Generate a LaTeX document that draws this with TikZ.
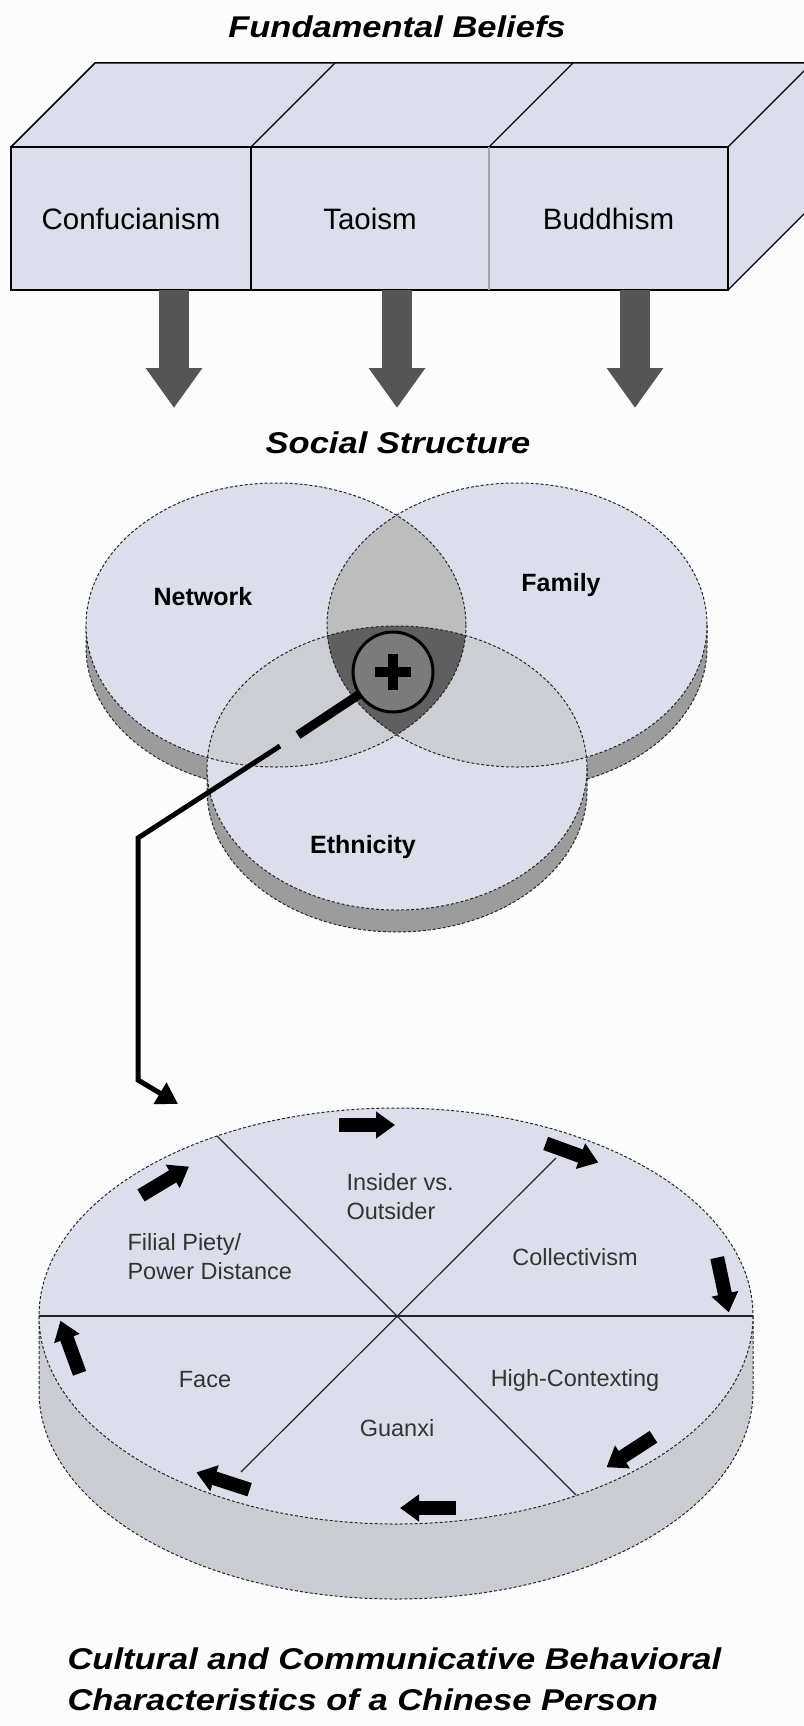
\documentclass[tikz,border=0pt]{standalone}
\usepackage{fontspec}
\setmainfont{Liberation Sans}
\newfontfamily\headfont[FakeStretch=1.15]{Liberation Sans}
\usetikzlibrary{arrows.meta,calc}

\definecolor{facefill}{HTML}{DCDFEB}
\definecolor{vennrim}{HTML}{9C9C9C}
\definecolor{pierim}{HTML}{CBCCD1}
\definecolor{lenstop}{HTML}{BDBDBD}
\definecolor{lensside}{HTML}{CDCED4}
\definecolor{lensmid}{HTML}{5F5F5F}
\definecolor{glass}{HTML}{7B7B7B}
\definecolor{beliefgray}{HTML}{555555}
\definecolor{paper}{HTML}{FCFCFC}

\tikzset{
  heading/.style={font=\headfont\bfseries\itshape\fontsize{30}{41}\selectfont},
  beliefbox/.style={fill=facefill, minimum width=239pt, minimum height=143pt, inner sep=0pt, font=\fontsize{29.5}{34}\selectfont},
  beliefarrow/.style={draw=beliefgray, line width=30pt, -{Triangle[length=40pt,width=54pt]}},
  venntext/.style={font=\bfseries\fontsize{25}{30}\selectfont},
  pietext/.style={text=black!80, font=\fontsize{23.5}{29}\selectfont},
  dashline/.style={draw=black!85, line width=1pt, dash pattern=on 3pt off 2pt},
  divider/.style={draw=black!85, line width=1.2pt},
  turnarrow/.style={draw=black, line width=14pt, -{Triangle[length=19pt,width=26pt]}},
  handle/.style={line width=9pt},
  link/.style={line width=5pt, line join=miter, -{Triangle[length=21pt,width=24pt]}}
}

\begin{document}
\begin{tikzpicture}[x=1pt, y=1pt, yscale=-1]
\fill[paper] (0,0) rectangle (803,1726);
\useasboundingbox (0,0) rectangle (803,1726);

\node[heading] (fb) at (397,27) {Fundamental Beliefs};

\node[beliefbox] (conf) at (131,218.5) {Confucianism};
\node[beliefbox] (tao) at (370,218.5) {Taoism};
\node[beliefbox] (bud) at (608.5,218.5) {Buddhism};
\fill[facefill] (11,147) -- (95,63) -- (812,63) -- (728,147) -- cycle;
\fill[facefill] (728,147) -- (812,63) -- (812,206) -- (728,290) -- cycle;
\draw[line width=1.5pt] (11,147) -- (95,63) -- (812,63);
\draw[line width=1.5pt] (11,147) rectangle (728,290);
\draw[line width=1.2pt] (728,147) -- (812,63);
\draw[line width=1.2pt] (728,290) -- (812,206);
\draw[line width=1.2pt] (251,147) -- (335,63);
\draw[line width=1.2pt] (489,147) -- (573,63);
\draw[line width=1.5pt] (251,147) -- (251,290);
\draw[black!35, line width=1.2pt] (489,147) -- (489,290);

\coordinate (b1) at (174,290);
\coordinate (b2) at (397,290);
\coordinate (b3) at (635,290);
\coordinate (s1) at (174,408);
\coordinate (s2) at (397,408);
\coordinate (s3) at (635,408);
\draw[beliefarrow] (b1) -- (s1);
\draw[beliefarrow] (b2) -- (s2);
\draw[beliefarrow] (b3) -- (s3);

\node[heading] (ss) at (398,443) {Social Structure};

\foreach \cx/\cy in {276/625, 517/625, 397/768} {
  \fill[vennrim] (\cx-190,\cy) -- (\cx-190,\cy+22) arc[start angle=180, end angle=0, x radius=190, y radius=142]
    -- (\cx+190,\cy) arc[start angle=0, end angle=180, x radius=190, y radius=142] -- cycle;
  \draw[dashline] (\cx-190,\cy) -- (\cx-190,\cy+22) arc[start angle=180, end angle=0, x radius=190, y radius=142] -- (\cx+190,\cy);
}
\foreach \cx/\cy in {276/625, 517/625, 397/768}
  \fill[facefill] (\cx,\cy) ellipse [x radius=190, y radius=142];
\begin{scope}
\clip (276,625) ellipse [x radius=190, y radius=142];
\fill[lenstop] (517,625) ellipse [x radius=190, y radius=142];
\fill[lensside] (397,768) ellipse [x radius=190, y radius=142];
\end{scope}
\begin{scope}
\clip (517,625) ellipse [x radius=190, y radius=142];
\fill[lensside] (397,768) ellipse [x radius=190, y radius=142];
\clip (276,625) ellipse [x radius=190, y radius=142];
\fill[lensmid] (397,768) ellipse [x radius=190, y radius=142];
\end{scope}
\foreach \cx/\cy in {276/625, 517/625, 397/768}
  \draw[dashline] (\cx,\cy) ellipse [x radius=190, y radius=142];

\node[venntext] (net) at (203,597) {Network};
\node[venntext] (fam) at (561,585) {Family};
\node[venntext] (eth) at (363,847) {Ethnicity};

\node[circle, draw, line width=3pt, fill=glass, minimum size=80pt, inner sep=0pt] (lens) at (393,672) {};
\draw[line width=10pt] ([xshift=-18pt]lens.center) -- ([xshift=18pt]lens.center);
\draw[line width=10pt] ([yshift=-18pt]lens.center) -- ([yshift=18pt]lens.center);
\coordinate (hend) at (298,735);
\draw[handle] (lens) -- (hend);

\coordinate (k1) at (280,746);
\coordinate (k2) at (138,838);
\coordinate (k3) at (138,1080);
\coordinate (k4) at (178,1104);
\draw[link] (k1) -- (k2) -- (k3) -- (k4);

\coordinate (pc) at (396,1316);
\fill[pierim] (39,1316) -- (39,1391) arc[start angle=180, end angle=0, x radius=357, y radius=208]
  -- (753,1316) arc[start angle=0, end angle=180, x radius=357, y radius=208] -- cycle;
\draw[dashline] (39,1316) -- (39,1391) arc[start angle=180, end angle=0, x radius=357, y radius=208] -- (753,1316);
\fill[facefill] (pc) ellipse [x radius=357, y radius=208];
\draw[dashline] (pc) ellipse [x radius=357, y radius=208];
\draw[divider] (39,1316) -- (753,1316);
\draw[divider] (217,1136) -- (576,1495);
\draw[divider] (241,1472) -- (556,1158);

\foreach \px/\py/\a in {367/1125/0, 572/1153/20, 723/1285/78, 630/1452/147, 428/1508/180, 223/1481/198, 70/1347/250, 165/1181/329}
  \draw[turnarrow] ($(\px,\py)+(\a+180:28)$) -- ($(\px,\py)+(\a:28)$);

\node[pietext, align=left, anchor=west] (ins) at (343,1197) {Insider vs.\\Outsider};
\node[pietext, align=left, anchor=west] (fil) at (124,1257) {Filial Piety/\\Power Distance};
\node[pietext] (col) at (575,1257) {Collectivism};
\node[pietext] (face) at (205,1380) {Face};
\node[pietext] (hic) at (575,1380) {High-Contexting};
\node[pietext] (gx) at (397,1428) {Guanxi};

\node[heading, align=left, anchor=west] (ccb) at (64,1679) {Cultural and Communicative Behavioral\\Characteristics of a Chinese Person};
\end{tikzpicture}
\end{document}
